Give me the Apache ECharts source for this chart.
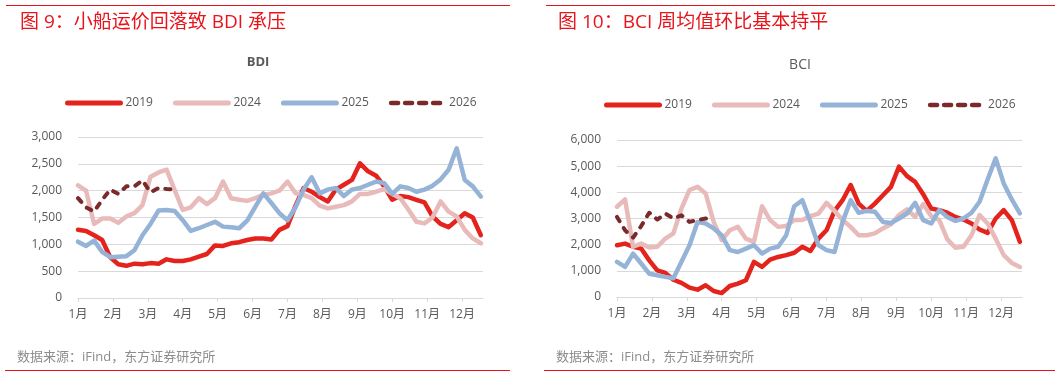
<!DOCTYPE html>
<html>
<head>
<meta charset="utf-8">
<script src="https://cdn.jsdelivr.net/npm/echarts@6/dist/echarts.min.js"></script>
<style>
  html, body { margin: 0; padding: 0; background: #fff; }
  #chart { width: 1061px; height: 377px; }
</style>
</head>
<body>
<div id="chart"></div>
<script>
// month tick labels
const months = ['1月', '2月', '3月', '4月', '5月', '6月', '7月', '8月', '9月', '10月', '11月', '12月'];
const years = ['2019', '2024', '2025', '2026'];

// weekly values, week 0 = first week of January
const bdi2019 = [1270,1250,1170,1080,760,630,600,640,630,650,640,720,690,690,720,770,820,980,970,1020,1040,1080,1110,1110,1090,1270,1340,1720,2050,1980,1880,1800,2020,2110,2200,2510,2360,2280,2080,1830,1900,1880,1830,1780,1520,1380,1320,1450,1580,1500,1170];
const bdi2024 = [2100,2000,1380,1480,1480,1400,1520,1580,1730,2260,2340,2390,2010,1640,1690,1860,1750,1860,2170,1860,1830,1810,1860,1920,1950,2000,2170,1950,1920,1860,1720,1670,1700,1730,1800,1940,1940,1980,2030,1940,1860,1650,1420,1390,1500,1800,1610,1520,1270,1110,1020];
const bdi2025 = [1050,970,1070,860,760,770,780,890,1170,1380,1630,1640,1620,1450,1250,1300,1360,1420,1330,1320,1300,1440,1700,1950,1770,1580,1450,1690,2020,2250,1950,2020,2050,1900,2020,2050,2110,2170,2140,1940,2080,2050,1980,2020,2090,2210,2390,2790,2200,2080,1890];
const bdi2026 = [1860,1690,1610,1830,2020,1940,2080,2080,2190,1970,2050,2030,2020];

const bci2019 = [1980,2040,1920,1850,1400,1020,920,660,540,360,280,450,230,150,420,510,640,1340,1150,1430,1530,1600,1690,1920,1760,2230,2550,3290,3700,4280,3570,3290,3570,3890,4210,4980,4620,4400,3930,3380,3320,3220,3060,2960,2810,2580,2450,3000,3320,2940,2110];
const bci2024 = [3450,3730,1920,2040,1890,1920,2230,2430,3380,4090,4210,3960,2870,2170,2550,2680,2230,2110,3470,2940,2680,2710,2940,2940,3090,3190,3600,3290,2940,2680,2360,2360,2430,2620,2780,3130,3350,3060,3550,3090,2940,2200,1880,1920,2360,3130,2810,2230,1600,1300,1150];
const bci2025 = [1340,1150,1660,1280,890,830,770,720,1350,1980,2870,2810,2620,2360,1790,1720,1850,1980,1660,1850,1920,2360,3470,3700,2870,1980,1790,1720,2870,3700,3220,3290,3260,2870,2830,3000,3190,3600,2940,2810,3320,3060,2910,3000,3220,3640,4490,5300,4340,3730,3200];
const bci2026 = [3060,2550,2270,2710,3220,2960,3190,3000,3120,2870,2940,3000,3060];

const colors = {'2019': '#E4231D', '2024': '#E8BBBA', '2025': '#95B3D7', '2026': '#7A2A2A'};
const RED = '#E8141B';
const FONT = "'Open Sans', 'Noto Sans CJK SC', sans-serif";

// week index -> position on the month axis
const toPairs = arr => arr.map((v, i) => [i * 12 / 52, v]);

function makeSeries(name, data, idx) {
    const dashed = name === '2026';
    return {
        name: name,
        type: 'line',
        xAxisIndex: idx,
        yAxisIndex: idx,
        data: toPairs(data),
        symbol: 'none',
        lineStyle: {
            color: colors[name],
            width: dashed ? 4 : 4.5,
            type: dashed ? [5, 8] : 'solid',
            cap: 'round',
            join: 'round'
        },
        itemStyle: {color: colors[name]}
    };
}

function xAxis(idx) {
    return {
        type: 'value', gridIndex: idx, min: 0, max: 11.6,
        axisLine: {show: true, lineStyle: {color: '#D9D9D9', width: 1}},
        axisTick: {show: true, length: 4, lineStyle: {color: '#D9D9D9'}, customValues: [0,1,2,3,4,5,6,7,8,9,10,11]},
        axisLabel: {
            color: '#595959', fontSize: 12, fontFamily: FONT, margin: 11,
            customValues: [0,1,2,3,4,5,6,7,8,9,10,11],
            formatter: v => months[Math.round(v)] || ''
        },
        splitLine: {show: false}
    };
}

function yAxis(idx, max, interval) {
    return {
        type: 'value', gridIndex: idx, min: 0, max: max, interval: interval,
        axisLine: {show: false}, axisTick: {show: false},
        axisLabel: {
            color: '#595959', fontSize: 12, fontFamily: FONT, margin: 16,
            formatter: v => v.toLocaleString('en-US')
        },
        splitLine: {lineStyle: {color: '#D9D9D9', width: 1}}
    };
}

function legend(left, top) {
    return {
        left: left, top: top,
        data: years.map(y => y === '2026'
            ? {name: y, lineStyle: {width: 4.5, type: [7, 7], cap: 'round'}}
            : {name: y}),
        itemWidth: 53, itemHeight: 14, itemGap: 20,
        itemStyle: {opacity: 0},
        lineStyle: {width: 5, cap: 'round'},
        textStyle: {color: '#595959', fontSize: 12, fontFamily: FONT},
        selectedMode: false
    };
}

const chart = echarts.init(document.getElementById('chart'), null, {renderer: 'canvas'});

chart.setOption({
    animation: false,
    backgroundColor: '#fff',
    title: [
        {text: '图 9：小船运价回落致 BDI 承压', left: 15, top: 8,
         textStyle: {color: RED, fontSize: 19, fontWeight: 'normal', fontFamily: FONT}},
        {text: '图 10：BCI 周均值环比基本持平', left: 553, top: 8,
         textStyle: {color: RED, fontSize: 19, fontWeight: 'normal', fontFamily: FONT}}
    ],
    legend: [legend(60, 92), legend(599, 94)],
    grid: [
        {left: 78, top: 137, width: 405, height: 161},
        {left: 617, top: 140, width: 405, height: 157}
    ],
    xAxis: [xAxis(0), xAxis(1)],
    yAxis: [yAxis(0, 3000, 500), yAxis(1, 6000, 1000)],
    series: [
        makeSeries('2019', bdi2019, 0),
        makeSeries('2024', bdi2024, 0),
        makeSeries('2025', bdi2025, 0),
        makeSeries('2026', bdi2026, 0),
        makeSeries('2019', bci2019, 1),
        makeSeries('2024', bci2024, 1),
        makeSeries('2025', bci2025, 1),
        makeSeries('2026', bci2026, 1)
    ],
    graphic: [
        {type: 'line', shape: {x1: 6, y1: 5.5, x2: 510, y2: 5.5}, style: {stroke: RED, lineWidth: 1}},
        {type: 'line', shape: {x1: 546, y1: 5.5, x2: 1055, y2: 5.5}, style: {stroke: RED, lineWidth: 1}},
        {type: 'line', shape: {x1: 5, y1: 370.5, x2: 510, y2: 370.5}, style: {stroke: RED, lineWidth: 1}},
        {type: 'line', shape: {x1: 544, y1: 370.5, x2: 1055, y2: 370.5}, style: {stroke: RED, lineWidth: 1}},
        {type: 'text', x: 258, y: 62, style: {text: 'BDI', fill: '#595959', font: "bold 13px " + FONT, textAlign: 'center', textVerticalAlign: 'middle'}},
        {type: 'text', x: 800, y: 65, style: {text: 'BCI', fill: '#595959', font: "14px " + FONT, textAlign: 'center', textVerticalAlign: 'middle'}},
        {type: 'text', x: 17, y: 357, style: {text: '数据来源：iFind，东方证券研究所', fill: '#8C8C8C', font: "13px " + FONT, textVerticalAlign: 'middle'}},
        {type: 'text', x: 556, y: 357, style: {text: '数据来源：iFind，东方证券研究所', fill: '#8C8C8C', font: "13px " + FONT, textVerticalAlign: 'middle'}}
    ]
});
</script>
</body>
</html>
